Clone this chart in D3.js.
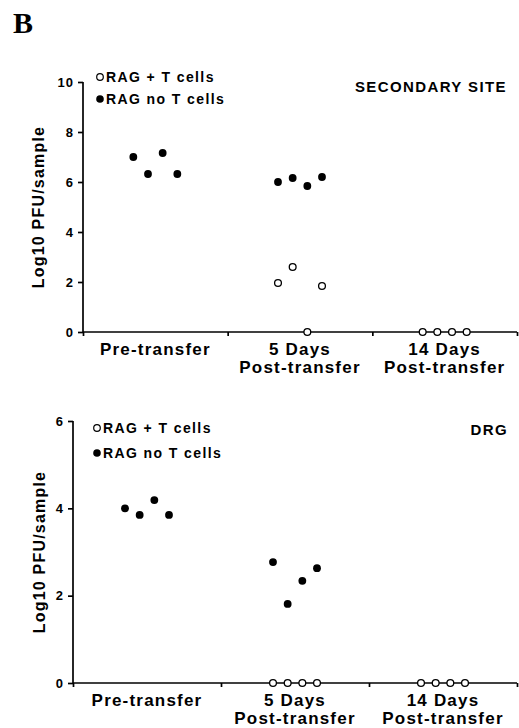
<!DOCTYPE html>
<html>
<head>
<meta charset="utf-8">
<script src="https://cdn.jsdelivr.net/npm/d3@7"></script>
<style>
  html, body { margin: 0; padding: 0; background: #fff; }
  svg text { font-family: "Liberation Sans", Arial, Helvetica, sans-serif; font-weight: bold; fill: #000; }
</style>
</head>
<body>
<svg id="chart" width="519" height="728"></svg>
<script>
// Time points on the x axis (line breaks split the label)
const categories = ['Pre-transfer', '5 Days\nPost-transfer', '14 Days\nPost-transfer'];
const seriesNames = ['RAG + T cells', 'RAG no T cells'];

// Secondary site, log10 PFU per sample, four mice per time point
const siteWithT = [[], [1.96, 2.6, 0, 1.84], [0, 0, 0, 0]];
const siteNoT = [[7.0, 6.32, 7.16, 6.32], [6.0, 6.16, 5.84, 6.2], []];
const siteTicks = [0, 2, 4, 6, 8, 10];

// DRG, log10 PFU per sample
const drgWithT = [[], [0, 0, 0, 0], [0, 0, 0, 0]];
const drgNoT = [[4.0, 3.85, 4.19, 3.85], [2.77, 1.81, 2.34, 2.63], []];
const drgTicks = [0, 2, 4, 6];

const svg = d3.select('#chart');

// panel letter
svg.append('text')
  .attr('x', 13)
  .attr('y', 33)
  .style('font-family', '"Liberation Serif", "Times New Roman", serif')
  .style('font-size', '30px')
  .text('B');

/**
 * Draw one dot-plot panel
 */
function drawPanel(p) {
  const x = d3.scaleLinear().domain([0, categories.length]).range([p.left, p.right]);
  const y = d3.scaleLinear().domain([0, d3.max(p.ticks)]).range([p.bottom, p.top]);
  // spread of the four replicates inside a time point
  const rep = d3.scalePoint().domain([0, 1, 2, 3]).range([-22, 22]);

  const g = svg.append('g');

  // y axis
  const yAxis = g.append('g')
    .attr('transform', `translate(${p.left},0)`)
    .call(d3.axisLeft(y).tickValues(p.ticks).tickSize(5).tickPadding(4).tickFormat(d3.format('d')));
  yAxis.select('.domain').attr('stroke', '#000').attr('stroke-width', 1.7).attr('d', `M0,${p.top}V${p.bottom}`);
  yAxis.selectAll('.tick line').attr('stroke-width', 1.7);
  yAxis.selectAll('.tick text')
    .style('font-size', '13px')
    .style('letter-spacing', '1px')
    .style('font-family', '"Liberation Sans", Arial, sans-serif')
    .style('font-weight', 'bold');

  // x axis with small ticks at the band edges
  const xAxis = g.append('g')
    .attr('transform', `translate(0,${p.bottom})`)
    .call(d3.axisBottom(x).tickValues(d3.range(categories.length + 1)).tickSize(4).tickFormat(''));
  xAxis.select('.domain').attr('stroke', '#000').attr('stroke-width', 1.7).attr('d', `M${p.left},0H${p.right}`);
  xAxis.selectAll('.tick line').attr('stroke-width', 1.7);

  // category labels, one text per line
  categories.forEach((c, i) => {
    c.split('\n').forEach((l, k) => {
      g.append('text')
        .attr('x', x(i + 0.5))
        .attr('y', p.bottom + 23 + k * 18)
        .attr('text-anchor', 'middle')
        .style('font-size', '17px')
        .style('letter-spacing', '1.2px')
        .text(l);
    });
  });

  // y label
  g.append('text')
    .attr('transform', `translate(${p.labelX},${(p.top + p.bottom) / 2}) rotate(-90)`)
    .attr('text-anchor', 'middle')
    .style('font-size', '16px')
    .style('letter-spacing', '1.2px')
    .text('Log10 PFU/sample');

  // site title
  g.append('text')
    .attr('x', p.titleX)
    .attr('y', p.titleY)
    .attr('text-anchor', 'end')
    .style('font-size', '15px')
    .style('letter-spacing', '1.4px')
    .text(p.title);

  // legend
  seriesNames.forEach((s, k) => {
    const ly = p.legendY + k * p.legendGap;
    g.append('circle')
      .attr('cx', p.legendX)
      .attr('cy', ly - 5)
      .attr('r', k === 0 ? 3.3 : 3.8)
      .attr('fill', k === 0 ? '#fff' : '#000')
      .attr('stroke', '#000')
      .attr('stroke-width', k === 0 ? 1.2 : 0);
    g.append('text')
      .attr('x', p.legendX + 6)
      .attr('y', ly)
      .style('font-size', '14px')
      .style('letter-spacing', '1.4px')
      .text(s);
  });

  // points
  const pts = [];
  p.noT.forEach((vals, i) => vals.forEach((v, j) => pts.push({ i, j, v, open: false })));
  p.withT.forEach((vals, i) => vals.forEach((v, j) => pts.push({ i, j, v, open: true })));

  g.selectAll('circle.pt')
    .data(pts)
    .enter()
    .append('circle')
    .attr('class', 'pt')
    .attr('cx', (d) => x(d.i + 0.5) + rep(d.j))
    .attr('cy', (d) => y(d.v))
    .attr('r', (d) => (d.open ? 3.4 : 3.9))
    .attr('fill', (d) => (d.open ? '#fff' : '#000'))
    .attr('stroke', '#000')
    .attr('stroke-width', (d) => (d.open ? 1.3 : 0));
}

drawPanel({
  left: 83, right: 517, top: 82, bottom: 332,
  ticks: siteTicks, withT: siteWithT, noT: siteNoT,
  title: 'SECONDARY SITE', titleX: 507, titleY: 92,
  legendX: 100, legendY: 82, legendGap: 22, labelX: 44
});

drawPanel({
  left: 73, right: 517, top: 421, bottom: 683,
  ticks: drgTicks, withT: drgWithT, noT: drgNoT,
  title: 'DRG', titleX: 508, titleY: 435,
  legendX: 97, legendY: 433, legendGap: 25, labelX: 45
});
</script>
</body>
</html>
